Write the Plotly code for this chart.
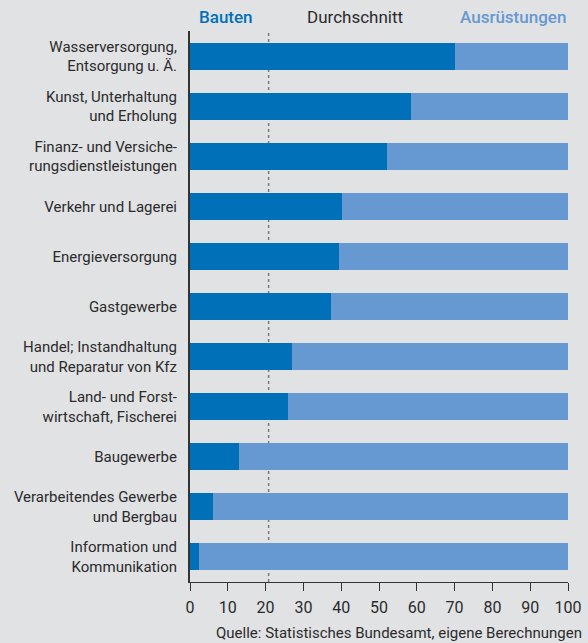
import plotly.graph_objects as go

BRANCHEN = [
    "Wasserversorgung,<br>Entsorgung u. Ä.",
    "Kunst, Unterhaltung<br>und Erholung",
    "Finanz- und Versiche-<br>rungsdienstleistungen",
    "Verkehr und Lagerei",
    "Energieversorgung",
    "Gastgewerbe",
    "Handel; Instandhaltung<br>und Reparatur von Kfz",
    "Land- und Forst-<br>wirtschaft, Fischerei",
    "Baugewerbe",
    "Verarbeitendes Gewerbe<br>und Bergbau",
    "Information und<br>Kommunikation",
]
BAUTEN = [70.2, 58.4, 52.0, 40.3, 39.5, 37.4, 27.1, 26.0, 13.0, 6.2, 2.5]
AUSRUESTUNGEN = [round(100 - b, 1) for b in BAUTEN]
DURCHSCHNITT = 20.8
X_TICKS = [0, 10, 20, 30, 40, 50, 60, 70, 80, 90, 100]

COLORS = {
    "bauten": "#0070b8",
    "ausr"  : "#6699d1",
    "bg"    : "#e1e2e4",
    "text"  : "#2b2b2b",
    "avg"   : "#7a7a7a",
}
FONT = "Roboto, Arial, sans-serif"

W, H = 588, 643
ML, MR, MT, MB = 190, 20, 31, 61

fig = go.Figure()
fig.add_trace(go.Bar(
    y=BRANCHEN, x=BAUTEN, orientation="h", name="Bauten",
    marker=dict(color=COLORS["bauten"], line=dict(width=0)), width=0.54,
))
fig.add_trace(go.Bar(
    y=BRANCHEN, x=AUSRUESTUNGEN, orientation="h", name="Ausrüstungen",
    marker=dict(color=COLORS["ausr"], line=dict(width=0)), width=0.54,
))

# Durchschnitt als gepunktete Linie hinter den Balken
fig.add_shape(type="line", x0=DURCHSCHNITT, x1=DURCHSCHNITT, xref="x",
              y0=0, y1=1, yref="paper", layer="below",
              line=dict(color=COLORS["avg"], width=1.5, dash="dot"))

fig.update_layout(
    barmode="stack",
    width=W, height=H,
    plot_bgcolor=COLORS["bg"],
    paper_bgcolor=COLORS["bg"],
    font=dict(family=FONT, size=15, color=COLORS["text"]),
    margin=dict(l=ML, r=MR, t=MT, b=MB),
    showlegend=False,
    xaxis=dict(
        range=[0, 100], tickvals=X_TICKS, showgrid=False, zeroline=False,
        showline=True, linecolor="#333333", linewidth=1,
        ticks="outside", ticklen=8, tickcolor="#333333",
        ticklabelstandoff=3, tickfont=dict(size=16),
        automargin=False, fixedrange=True,
    ),
    yaxis=dict(
        categoryorder="array", categoryarray=BRANCHEN,
        range=[10.5, -0.5], showgrid=False, zeroline=False,
        showline=True, linecolor="#333333", linewidth=2,
        ticks="", ticklabelstandoff=8, tickfont=dict(size=15),
        automargin=False, fixedrange=True,
    ),
)

# Kopfzeile und Quelle in Pixelpositionen umrechnen
pw, ph = W - ML - MR, H - MT - MB
def px(x): return (x - ML) / pw
def py(y): return (H - MB - y) / ph

fig.update_layout(annotations=[
    dict(text="Bauten", x=px(197), y=py(17), xref="paper", yref="paper",
         xanchor="left", yanchor="middle", showarrow=False,
         font=dict(size=17, color=COLORS["bauten"], weight=500)),
    dict(text="Durchschnitt", x=px(355), y=py(17), xref="paper", yref="paper",
         xanchor="center", yanchor="middle", showarrow=False,
         font=dict(size=17, color=COLORS["text"])),
    dict(text="Ausrüstungen", x=px(568), y=py(17), xref="paper", yref="paper",
         xanchor="right", yanchor="middle", showarrow=False,
         font=dict(size=17, color=COLORS["ausr"], weight=500)),
    dict(text="Quelle: Statistisches Bundesamt, eigene Berechnungen",
         x=px(584), y=py(633), xref="paper", yref="paper",
         xanchor="right", yanchor="middle", showarrow=False,
         font=dict(size=15, color=COLORS["text"])),
])

fig.write_html("out.html", config={"displayModeBar": False},
               post_script="document.body.style.margin='0';")
